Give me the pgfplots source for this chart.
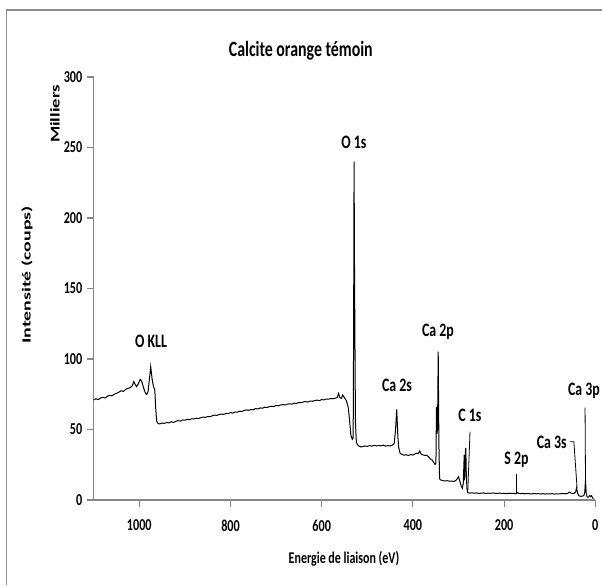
\documentclass[border=0pt]{standalone}
\usepackage{pgfplots}
\pgfplotsset{compat=1.18}
\usepackage{fontspec}
\setmainfont{Carlito}
\newfontfamily\hfont{Carlito}[FakeStretch=0.73]
\newfontfamily\vfont{Carlito}[FakeStretch=1.6]
\newfontfamily\mfont{Carlito}[FakeStretch=1.4]
\definecolor{axgray}{RGB}{134,134,134}
\definecolor{framegray}{RGB}{140,140,140}

\begin{document}
\begin{tikzpicture}[x=0.75pt,y=0.75pt]
\useasboundingbox (0,0) rectangle (602,585);
% chart frame (only left and top edges are inside the picture)
\draw[framegray,line width=1.3pt] (6.5,0) -- (6.5,575) -- (602,575);

\begin{axis}[
  at={(70.28pt,63.75pt)}, anchor=south west,
  scale only axis, width=376.2pt, height=317.25pt,
  xmin=0, xmax=1100, x dir=reverse,
  ymin=0, ymax=300,
  xtick={0,200,...,1000}, ytick={0,50,...,300},
  axis x line*=bottom, axis y line*=left,
  axis line style={axgray, line width=0.8pt, -},
  tick style={axgray, line width=0.8pt},
  tick align=outside, major tick length=5pt,
  ticklabel style={font=\hfont\bfseries\fontsize{12.5}{14}\selectfont, text=black},
  xticklabel style={yshift=-6.5pt},
  /pgf/number format/assume math mode=true,
  /pgf/number format/1000 sep={},
  clip=false,
]
\addplot[black, line width=0.75pt] table {
x y
1100 71.0
1095 71.8
1090 71.2
1085 72.3
1080 72.8
1075 72.4
1070 73.6
1065 74.2
1060 73.9
1055 75.0
1050 75.6
1045 76.4
1040 77.5
1035 77.0
1030 78.4
1025 79.2
1020 79.6
1015 81.2
1012 84.0
1009 82.0
1006 80.4
1002 82.5
998 85.6
995 84.5
991 80.0
987 76.0
984 75.0
981 76.5
978 85
975 94.6
972 86
969 80.5
966 78
964 65
962 56
959 54.2
955 54.0
950 54.6
945 54.3
940 55.0
935 54.7
930 55.5
925 55.0
920 55.8
915 56.3
910 55.9
905 56.8
900 56.6
895 57.2
890 57.0
885 57.6
880 57.5
875 58.0
870 57.8
865 58.4
860 58.8
855 58.6
850 59.2
845 59.1
840 59.7
835 60.2
830 60.0
825 60.6
820 60.9
815 60.7
810 61.4
805 61.3
800 62.0
795 61.6
790 62.4
785 62.3
780 63.0
775 62.8
770 63.5
765 63.9
760 63.6
755 64.2
750 64.0
745 64.8
740 64.6
735 65.3
730 65.1
725 65.8
720 65.6
715 66.2
710 66.5
705 66.3
700 67.0
695 66.8
690 67.4
685 67.6
680 67.4
675 68.0
670 68.2
665 68.0
660 68.7
655 68.5
650 69.2
645 69.0
640 69.6
635 69.8
630 69.5
625 70.2
620 70.0
615 70.6
610 70.8
605 70.5
600 71.2
595 71.0
590 71.6
585 71.5
580 72.0
575 71.8
570 72.3
566 72.6
563 75.5
560 72.5
557 72.0
554 74.5
550 72.5
546 70.5
542 66
539 57
536 46
533 43
531 44
530 120
529 240
528 160
526 55
524 41
521 39
518 38.2
514 37.6
510 37.9
505 38.3
500 38.0
495 38.6
490 38.2
485 38.8
480 38.3
475 38.7
470 38.4
465 38.9
460 38.2
455 38.6
450 38.3
445 38.9
441 40
438 50
435.5 64.3
433 45
431 37
428 33
424 32.4
420 31.8
415 32.1
410 31.6
405 32.2
400 31.9
396 32.6
392 33.2
388 33.0
385 34.8
382 32.6
378 32.0
374 31.6
370 31.8
366 30.7
362 29.2
358 28.4
355 27.0
351.5 25.2
349.5 26
348.3 66
347.3 47
346 50
344.5 105.2
343 40
341.5 15
339 14.2
335 13.8
330 13.5
325 13.7
320 13.3
315 13.4
310 13.2
306 13.8
303 15.0
300 16.5
297 13.2
294 10
291.5 8.3
289.5 12
287.5 32
286.5 14
285 33
284 37
283 20
281.5 8
280 5.2
275 4.9
270 5.1
265 4.8
260 5.0
255 4.7
250 4.9
245 5.0
240 4.6
235 4.9
230 4.7
225 5.0
220 4.8
215 4.6
210 4.9
205 4.7
200 4.8
195 4.5
190 4.8
185 4.6
180 4.7
175 4.5
172 4.8
170 5.2
168 4.6
165 4.5
160 4.7
155 4.4
150 4.6
145 4.5
140 4.3
135 4.6
130 4.4
125 4.5
120 4.3
115 4.5
110 4.2
105 4.4
100 4.3
95 4.5
90 4.2
85 4.4
80 4.3
75 4.5
70 4.6
65 4.4
60 4.8
57 5.6
54 5.0
50 4.6
46 4.8
43 6.0
41 8.5
39 5.0
36 3.0
32 2.6
28 2.8
25 3.2
23 6
21.5 14
20 5
18 2.2
15 2.0
12 3.2
10 2.4
8 3.0
6 1.5
4 1.2
};
% leader lines of the peak labels
\draw[black, line width=0.6pt] (axis cs:274.8,48.4) -- (axis cs:279.8,4.8);
\draw[black, line width=0.6pt] (axis cs:172,18.4) -- (axis cs:172,4.8);
\draw[black, line width=0.6pt] (axis cs:56,41.3) -- (axis cs:47,41.3) -- (axis cs:40,8.5);
\draw[black, line width=0.6pt] (axis cs:22.5,65.5) -- (axis cs:21.5,14);
% peak labels
\begin{scope}[every node/.style={font=\hfont\bfseries\fontsize{14.25}{16}\selectfont, anchor=base, inner sep=0pt}]
\node at (axis cs:529.2,249.6) {O 1s};
\node at (axis cs:974.3,107.8) {O KLL};
\node at (axis cs:434.9,77.3) {Ca 2s};
\node at (axis cs:345,116.3) {Ca 2p};
\node at (axis cs:274.8,56) {C 1s};
\node at (axis cs:172.8,25.5) {S 2p};
\node at (axis cs:95.6,36.2) {Ca 3s};
\node at (axis cs:24.8,73.8) {Ca 3p};
\end{scope}
\end{axis}

% title and axis labels
\node[anchor=base, inner sep=0pt, font=\hfont\bfseries\fontsize{16.3}{18}\selectfont] at (300.8,528.5) {Calcite orange témoin};
\node[anchor=base, inner sep=0pt, font=\hfont\bfseries\fontsize{12.3}{14}\selectfont] at (344,22) {Energie de liaison (eV)};
\node[rotate=90, inner sep=0pt, font=\vfont\bfseries\fontsize{9.3}{11}\selectfont] at (27,310) {Intensité (coups)};
\node[rotate=90, inner sep=0pt, font=\mfont\bfseries\fontsize{10}{12}\selectfont] at (55,471) {Milliers};
\end{tikzpicture}
\end{document}
